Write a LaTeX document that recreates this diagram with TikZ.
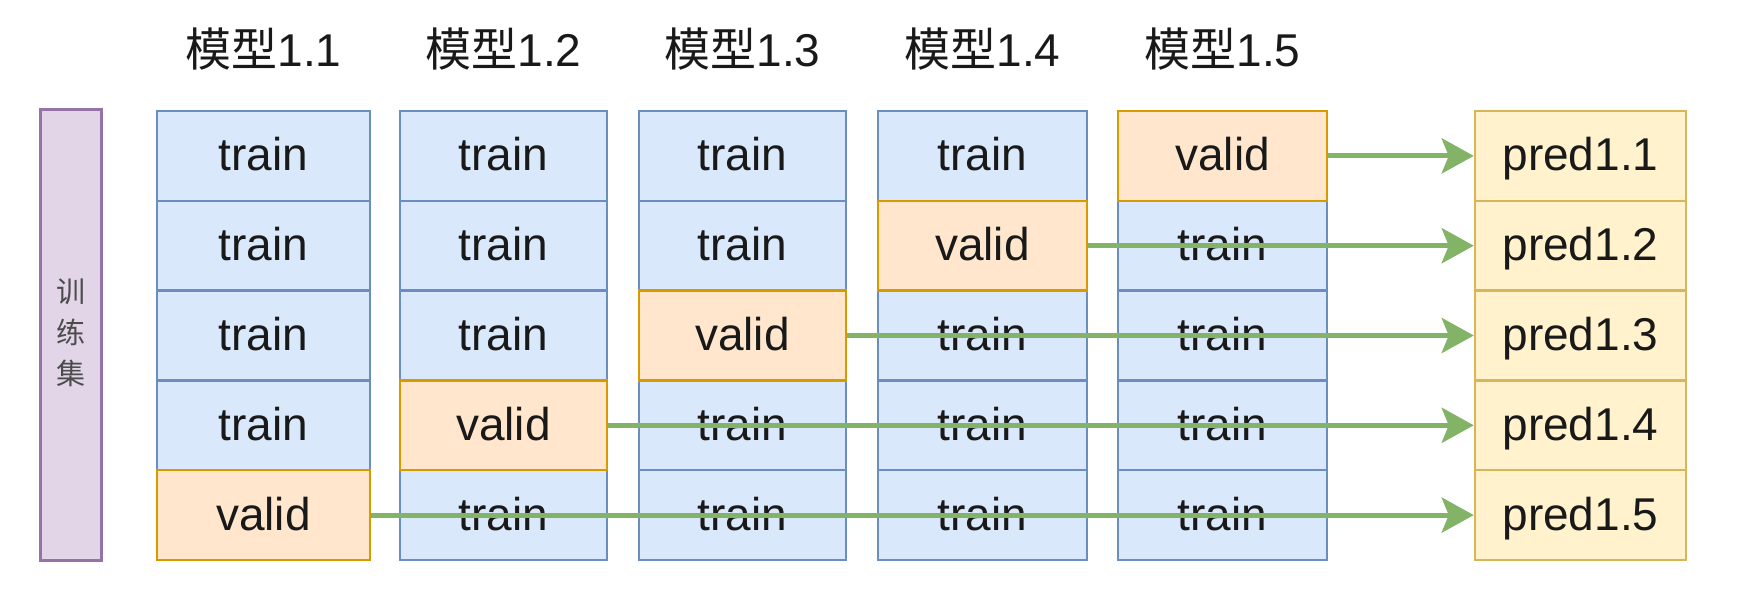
\documentclass[tikz,border=0pt]{standalone}
\usepackage{fontspec}
\setmainfont{Liberation Sans}
\newfontfamily\cjk{Noto Sans CJK SC}
\usetikzlibrary{arrows.meta}
\definecolor{bluefill}{HTML}{DAE8FC}
\definecolor{bluedraw}{HTML}{6C8EBF}
\definecolor{orfill}{HTML}{FFE6CC}
\definecolor{ordraw}{HTML}{D79B00}
\definecolor{yefill}{HTML}{FFF2CC}
\definecolor{yedraw}{HTML}{D6B656}
\definecolor{pufill}{HTML}{E1D5E7}
\definecolor{pudraw}{HTML}{9673A6}
\definecolor{arrowgreen}{HTML}{82B366}
\tikzset{
  cell/.style={rectangle, inner sep=0pt, line width=2.5pt, font=\fontsize{46}{50}\selectfont, text=black!90, text height=33pt, text depth=3pt},
  traincell/.style={cell, fill=bluefill, draw=bluedraw},
  validcell/.style={cell, fill=orfill, draw=ordraw},
  predcell/.style={cell, fill=yefill, draw=yedraw},
  header/.style={inner sep=0pt, font=\fontsize{46}{50}\selectfont, text=black!90},
  flow/.style={draw=arrowgreen, line width=5pt, -{Stealth[length=32pt,width=35pt,inset=7pt]}},
}
\begin{document}
\begin{tikzpicture}[x=1pt,y=-1pt]
\useasboundingbox (0,0) rectangle (1737,599);
% training set bar
\node[rectangle, fill=pufill, draw=pudraw, line width=3pt, minimum width=61pt, minimum height=450pt, inner sep=0pt] (bar) at (70.5,335) {};
\node[inner sep=0pt, font=\cjk\fontsize{29}{41}\selectfont, text=black!70, align=center] (barlabel) at (70.5,333) {训\\练\\集};
\def\rowh{89.8}
% train cells first
\foreach \c/\xl/\xr in {1/157/370, 2/400/607, 3/639/846, 4/878/1087, 5/1118/1327} {
  \pgfmathsetmacro{\cx}{(\xl+\xr)/2}
  \pgfmathsetmacro{\cw}{\xr-\xl}
  \pgfmathtruncatemacro{\vr}{6-\c}
  \foreach \r in {1,...,5} {
    \pgfmathsetmacro{\cy}{111+(\r-0.5)*\rowh}
    \ifnum\r=\vr\else
      \node[traincell, minimum width=\cw pt, minimum height=\rowh pt] (c\c\r) at (\cx,\cy) {train};
    \fi
  }
}
% valid cells on top
\foreach \c/\xl/\xr in {1/157/370, 2/400/607, 3/639/846, 4/878/1087, 5/1118/1327} {
  \pgfmathsetmacro{\cx}{(\xl+\xr)/2}
  \pgfmathsetmacro{\cw}{\xr-\xl}
  \pgfmathtruncatemacro{\vr}{6-\c}
  \pgfmathsetmacro{\cy}{111+(\vr-0.5)*\rowh}
  \node[validcell, minimum width=\cw pt, minimum height=\rowh pt] (c\c\vr) at (\cx,\cy) {valid};
}
% prediction cells
\foreach \r in {1,...,5} {
  \pgfmathsetmacro{\cy}{111+(\r-0.5)*\rowh}
  \node[predcell, minimum width=211pt, minimum height=\rowh pt] (c6\r) at (1580.5,\cy) {pred1.\r};
}
% headers
\foreach \c in {1,...,5} {
  \path (c\c1.north) ++(0,-61) node[header] (h\c) {{\cjk 模型}1.\c};
}
% arrows
\foreach \c in {1,...,5} {
  \pgfmathtruncatemacro{\vr}{6-\c}
  \draw[flow] (c\c\vr.east) -- (c6\vr.west);
}
\end{tikzpicture}
\end{document}
